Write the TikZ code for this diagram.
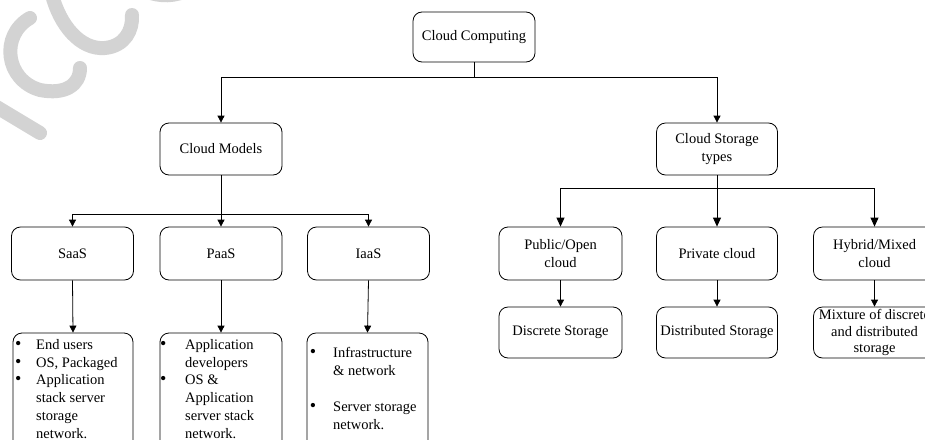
\documentclass[tikz,border=0pt]{standalone}
\usepackage{fontspec}
\setmainfont{Liberation Serif}
\usetikzlibrary{arrows.meta}
\definecolor{wm}{RGB}{211,211,211}
\newcommand{\fsz}{\fontsize{14.5}{17.7}\selectfont}
\begin{document}
\begin{tikzpicture}[x=1pt,y=-1pt,
  box/.style={draw, line width=0.8pt, rounded corners=9pt, minimum width=122pt, minimum height=52pt, inner sep=1pt, align=center, font=\fsz},
  conn/.style={line width=0.8pt, -{Triangle[length=7pt,width=7pt]}},
  connb/.style={line width=0.8pt, -{Triangle[length=9pt,width=8pt]}},
  ln/.style={anchor=base west, inner sep=0pt, font=\fsz},
  bul/.style={anchor=base, inner sep=0pt, font=\fontsize{18}{18}\selectfont},
  wmark/.style={wm, line width=14pt, line cap=round}]
\useasboundingbox (0,0) rectangle (925,439);
% watermark
\draw[wmark] (-20,97) -- (40,133);
\draw[wmark] (30,18) .. controls (0,35) and (5,80) .. (40,90) .. controls (65,95) and (80,85) .. (80,68);
\draw[wmark] (52,-5) .. controls (60,25) and (80,50) .. (105,48) .. controls (125,46) and (133,30) .. (132,15);
\draw[wmark] (145,-9) .. controls (160,-3) and (175,-3) .. (190,-11);
% nodes
\node[box, minimum height=50pt] (cc) at (474,37) {Cloud Computing};
\node[box] (cm) at (221,149) {Cloud Models};
\node[box, minimum width=121pt] (cst) at (717,149) {Cloud Storage\\types};
\node[box, minimum height=53pt] (saas) at (72.5,253.5) {SaaS};
\node[box, minimum height=53pt] (paas) at (221,253.5) {PaaS};
\node[box, minimum height=53pt] (iaas) at (368.5,253.5) {IaaS};
\node[box, minimum height=53pt, minimum width=123pt] (pub) at (560.5,253.5) {Public/Open\\cloud};
\node[box, minimum height=53pt, minimum width=121pt] (priv) at (717,253.5) {Private cloud};
\node[box, minimum height=53pt] (hyb) at (874.5,253.5) {Hybrid/Mixed\\cloud};
\node[box, minimum height=51pt, minimum width=123pt] (disc) at (560.5,332.5) {Discrete Storage};
\node[box, minimum height=51pt, minimum width=121pt] (dist) at (717,332.5) {Distributed Storage};
\node[box, minimum height=51pt, font={\fontsize{14.5}{16.5}\selectfont}] (mix) at (874.5,332.5) {Mixture of discrete\\and distributed\\storage};
\node[box, minimum height=118pt, minimum width=120pt] (saasl) at (73,392) {};
\node[box, minimum height=118pt] (paasl) at (221,392) {};
\node[box, minimum height=118pt, minimum width=121pt] (iaasl) at (367.5,392) {};
% list texts
\foreach \t [count=\i] in {End users, {OS, Packaged}, Application, stack server, storage, network.}
  \node[ln] (sa\i) at (36,349.5+17.7*\i-17.7) {\t};
\foreach \i/\y in {1/349.5, 2/367.2, 3/384.9}
  \node[bul] (sab\i) at (18.3,\y) {\textbullet};
\foreach \t [count=\i] in {Application, developers, {OS \&}, Application, server stack, network.}
  \node[ln] (pa\i) at (185,349.5+17.7*\i-17.7) {\t};
\foreach \i/\y in {1/349.5, 2/384.9}
  \node[bul] (pab\i) at (163.3,\y) {\textbullet};
\foreach \t/\y [count=\i] in {Infrastructure/357.5, {\& network}/375.2, Server storage/411.5, network./429.2}
  \node[ln] (ia\i) at (333,\y) {\t};
\foreach \i/\y in {1/357.5, 2/411.5}
  \node[bul] (iab\i) at (313,\y) {\textbullet};
% connectors
\draw[conn] (cc.south) -- ++(0,15) -| (cm.north);
\draw[conn] (cc.south) -- ++(0,15) -| (cst.north);
\draw[conn] (cm.south) -- ++(0,39) -| (saas.north);
\draw[conn] (cm.south) -- (paas.north);
\draw[conn] (cm.south) -- ++(0,39) -| (iaas.north);
\draw[conn] (saas.south) -- (saasl.north);
\draw[conn] (paas.south) -- (paasl.north);
\draw[conn] (iaas.south) -- (iaasl.north);
\draw[connb] (cst.south) -- ++(0,13) -| (pub.north);
\draw[connb] (cst.south) -- (priv.north);
\draw[connb] (cst.south) -- ++(0,13) -| (hyb.north);
\draw[conn] (pub.south) -- (disc.north);
\draw[conn] (priv.south) -- (dist.north);
\draw[conn] (hyb.south) -- (mix.north);
\end{tikzpicture}
\end{document}
